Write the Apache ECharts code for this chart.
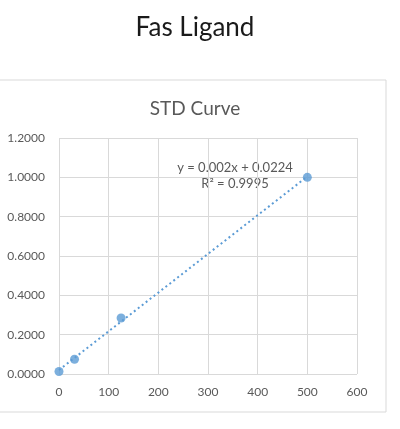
<!DOCTYPE html>
<html><head><meta charset="utf-8">
<script src="https://cdn.jsdelivr.net/npm/echarts@6/dist/echarts.min.js"></script>
<style>html,body{margin:0;padding:0;background:#fff}#c{width:400px;height:429px}</style>
</head><body><div id="c"></div>
<script>
var concentration = [0, 31.25, 125, 500];
var absorbance = [0.013, 0.075, 0.285, 1.0];
var equationText = 'y = 0.002x + 0.0224';
var r2Text = 'R² = 0.9995';
var mainTitle = 'Fas Ligand';
var chartTitle = 'STD Curve';

// least-squares trendline through the data (as Excel draws it)
var n = concentration.length, mx = 0, my = 0;
for (var i = 0; i < n; i++) { mx += concentration[i]; my += absorbance[i]; }
mx /= n; my /= n;
var sxy = 0, sxx = 0;
for (var i = 0; i < n; i++) { sxy += (concentration[i]-mx)*(absorbance[i]-my); sxx += (concentration[i]-mx)*(concentration[i]-mx); }
var b = sxy / sxx, a = my - b * mx;
var xStart = concentration[0], xEnd = concentration[n-1];
var trend = [[xStart, a + b*xStart], [xEnd, a + b*xEnd]];

var chart = echarts.init(document.getElementById('c'));
var font = 'Lato, "Open Sans", sans-serif';
chart.setOption({
  animation: false,
  title: [
    {text: mainTitle, left: 190, textAlign: 'center', top: 10, textStyle: {fontFamily: font, fontSize: 26, fontWeight: 'normal', color: '#1a1a1a'}},
    {text: chartTitle, left: 190, textAlign: 'center', top: 94, textStyle: {fontFamily: font, fontSize: 19, fontWeight: 'normal', color: '#595959'}}
  ],
  graphic: [
    {type: 'rect', shape: {x: -1, y: 80, width: 387, height: 332}, style: {fill: 'none', stroke: '#d9d9d9', lineWidth: 1}, z: -1},
    {type: 'text', x: 235, y: 160, style: {text: equationText + '\n' + r2Text, fill: '#595959', font: '13px ' + font, align: 'center', lineHeight: 16}}
  ],
  grid: {left: 59, right: 43, top: 138, bottom: 55},
  xAxis: {type: 'value', min: 0, max: 600, interval: 100,
    axisLine: {show: false}, axisTick: {show: false},
    splitLine: {lineStyle: {color: '#d9d9d9'}},
    axisLabel: {color: '#595959', fontFamily: font, fontSize: 12, margin: 12}},
  yAxis: {type: 'value', min: 0, max: 1.2, interval: 0.2,
    axisLine: {show: false}, axisTick: {show: false},
    splitLine: {lineStyle: {color: '#d9d9d9'}},
    axisLabel: {color: '#595959', fontFamily: font, fontSize: 12, margin: 14, formatter: function(v){return v.toFixed(4);}}},
  series: [
    {type: 'line', data: trend, symbol: 'none', lineStyle: {color: '#5B9BD5', width: 2, type: [2, 3]}, z: 2, silent: true},
    {type: 'scatter', data: concentration.map(function(x,i){return [x, absorbance[i]];}), symbolSize: 9, itemStyle: {color: '#5B9BD5'}, z: 3}
  ]
});
</script></body></html>
